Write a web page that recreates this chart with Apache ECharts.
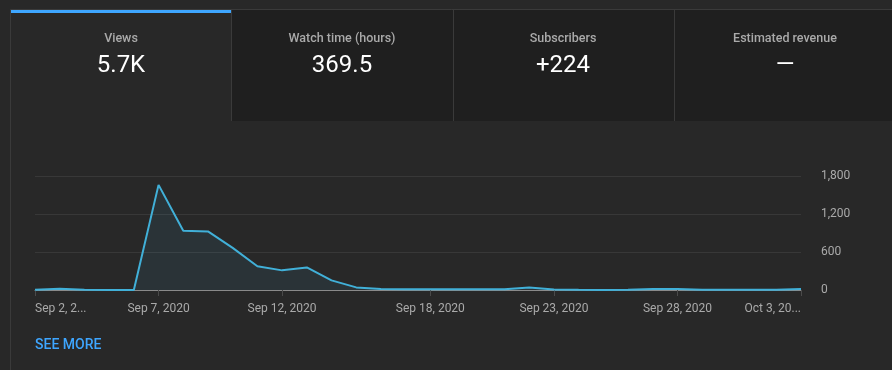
<!DOCTYPE html>
<html><head><meta charset="utf-8">
<script src="https://cdn.jsdelivr.net/npm/echarts@6/dist/echarts.min.js"></script>
<style>html,body{margin:0;padding:0;background:#282828;}#c{width:892px;height:370px;}</style>
</head><body><div id="c"></div>
<script>
const categories = ["Sep 2, 2020","Sep 3, 2020","Sep 4, 2020","Sep 5, 2020","Sep 6, 2020","Sep 7, 2020","Sep 8, 2020","Sep 9, 2020","Sep 10, 2020","Sep 11, 2020","Sep 12, 2020","Sep 13, 2020","Sep 14, 2020","Sep 15, 2020","Sep 16, 2020","Sep 17, 2020","Sep 18, 2020","Sep 19, 2020","Sep 20, 2020","Sep 21, 2020","Sep 22, 2020","Sep 23, 2020","Sep 24, 2020","Sep 25, 2020","Sep 26, 2020","Sep 27, 2020","Sep 28, 2020","Sep 29, 2020","Sep 30, 2020","Oct 1, 2020","Oct 2, 2020","Oct 3, 2020"];
const views = [5,20,5,0,0,1660,935,925,665,375,310,357,152,41,15,10,10,10,10,10,40,8,2,0,2,15,15,3,2,2,3,15];
const labelIndices = [0,5,10,16,21,26,31];
const yTicks = [0,600,1200,1800];
const tabTitles = ["Views","Watch time (hours)","Subscribers","Estimated revenue"];
const tabValues = ["5.7K","369.5","+224","\u2014"];

const chart = echarts.init(document.getElementById('c'), null, {renderer:'canvas'});
const tabX = [11,231,453,674,892];
const tabCenters = [121,342,563,785];
const graphics = [];
graphics.push({type:'rect',shape:{x:10.5,y:9.5,width:900,height:400},style:{fill:'#282828',stroke:'#3a3a3a',lineWidth:1},silent:true,z:-10});
for (let i=1;i<4;i++){
  graphics.push({type:'rect',shape:{x:tabX[i],y:10,width:tabX[i+1]-tabX[i]+(i===3?10:0),height:111},style:{fill:'#1f1f1f'},silent:true,z:-5});
  graphics.push({type:'line',shape:{x1:tabX[i]+0.5,y1:10,x2:tabX[i]+0.5,y2:121},style:{stroke:'#3a3a3a',lineWidth:1},silent:true,z:-4});
}
graphics.push({type:'rect',shape:{x:11,y:10,width:220,height:3},style:{fill:'#3ea6ff'},silent:true,z:-3});
for (let i=0;i<4;i++){
  const cx=tabCenters[i];
  graphics.push({type:'text',x:cx,y:39,style:{text:tabTitles[i],fill:'#aaaaaa',font:'500 12.5px Roboto',align:'center',verticalAlign:'middle'},silent:true});
  graphics.push({type:'text',x:cx,y:66,style:{text:tabValues[i],fill:'#ffffff',font:'400 24px Roboto',align:'center',verticalAlign:'middle'},silent:true});
}
graphics.push({type:'text',x:35,y:345,style:{text:'SEE MORE',fill:'#3ea6ff',font:'500 14px Roboto',align:'left',verticalAlign:'middle'},silent:true});

chart.setOption({
  backgroundColor:'#282828',
  animation:false,
  graphic:graphics,
  grid:{left:35,right:91,top:176,bottom:80,containLabel:false},
  xAxis:{
    type:'category',data:categories,boundaryGap:false,
    axisLine:{show:true,lineStyle:{color:'#8a8a8a',width:1}},
    axisTick:{show:true,length:6,interval:(i)=>labelIndices.includes(i),lineStyle:{color:'#4a4a4a'}},
    axisLabel:{
      interval:(i)=>labelIndices.includes(i),
      color:'#aaaaaa',fontFamily:'Roboto',fontSize:12,margin:13,
      alignMinLabel:'left',alignMaxLabel:'right',
      formatter:(v,i)=>{
        if(i===0) return v.slice(0,8)+'...';
        if(i===categories.length-1) return v.slice(0,9)+'...';
        return v;
      }
    },
    splitLine:{show:false}
  },
  yAxis:{
    type:'value',position:'right',min:yTicks[0],max:yTicks[yTicks.length-1],interval:600,
    axisLine:{show:false},axisTick:{show:false},
    axisLabel:{color:'#aaaaaa',fontFamily:'Roboto',fontSize:12,margin:20,align:'left',
      formatter:(v)=>v.toLocaleString('en-US')},
    splitLine:{show:true,lineStyle:{color:'#383838',width:1}}
  },
  series:[{
    type:'line',data:views,showSymbol:false,symbol:'none',
    lineStyle:{color:'#41b0d8',width:2},
    areaStyle:{color:'rgba(65,176,216,0.12)'},
    z:3
  }]
});
</script></body></html>
